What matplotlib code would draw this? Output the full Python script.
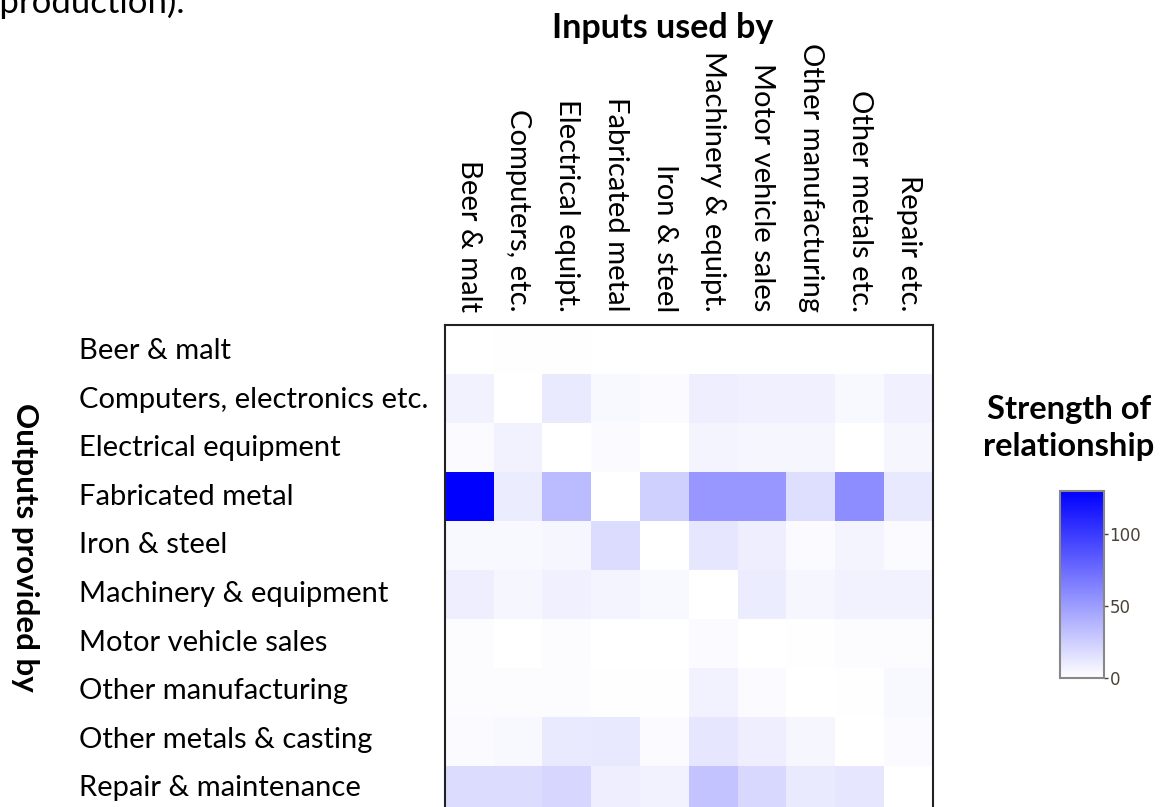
import numpy as np
import matplotlib.pyplot as plt
from matplotlib.colors import LinearSegmentedColormap

plt.rcParams['font.family'] = ['Lato', 'DejaVu Sans']

inputs = ['Beer & malt', 'Computers, etc.', 'Electrical equipt.', 'Fabricated metal',
          'Iron & steel', 'Machinery & equipt.', 'Motor vehicle sales',
          'Other manufacturing', 'Other metals etc.', 'Repair etc.']
outputs = ['Beer & malt', 'Computers, electronics etc.', 'Electrical equipment',
           'Fabricated metal', 'Iron & steel', 'Machinery & equipment',
           'Motor vehicle sales', 'Other manufacturing', 'Other metals & casting',
           'Repair & maintenance']

# strength of relationship, rows = outputs, columns = inputs
beer = [0, 1, 1, 0, 0, 0, 0, 0, 0, 0]
computers = [7, 0, 11, 4, 3, 9, 8, 8, 4, 8]
electrical = [3, 7, 0, 3, 0, 6, 5, 5, 0, 5]
fabricated = [130, 10, 35, 0, 24, 53, 53, 17, 58, 12]
iron = [4, 4, 5, 18, 0, 13, 9, 3, 6, 3]
machinery = [9, 5, 8, 6, 4, 0, 10, 5, 7, 7]
motor = [2, 0, 2, 0, 0, 3, 0, 1, 2, 2]
other_manuf = [2, 2, 2, 1, 1, 7, 3, 0, 1, 4]
other_metals = [3, 4, 11, 12, 3, 13, 9, 5, 0, 3]
repair = [18, 18, 21, 9, 7, 30, 20, 11, 13, 0]

values = np.array([beer, computers, electrical, fabricated, iron, machinery,
                   motor, other_manuf, other_metals, repair])

W, H = 1173, 807
fig = plt.figure(figsize=(W / 100, H / 100), dpi=100)

cmap = LinearSegmentedColormap.from_list('wb', ['#ffffff', '#0000ff'])

# heatmap area (pixels): x 445-933, y 325-815 (bottom row is cut off)
ax = fig.add_axes([445 / W, (H - 815) / H, 488 / W, 490 / H])
im = ax.imshow(values, cmap=cmap, vmin=0, vmax=130, aspect='auto',
               interpolation='nearest')
for s in ax.spines.values():
    s.set_linewidth(1.5)
    s.set_color('#222222')
ax.set_xticks([])
ax.set_yticks([])

for i, lab in enumerate(outputs):
    ax.text(79 / W, 1 - (351 + 48.6 * i) / H, lab, transform=fig.transFigure,
            ha='left', va='center', fontsize=21)

for j, lab in enumerate(inputs):
    ax.text(j, 1.027, lab, transform=ax.get_xaxis_transform(), rotation=270,
            ha='center', va='bottom', fontsize=21)

fig.text(663 / W, 1 - 28 / H, 'Inputs used by', ha='center', va='center',
         fontsize=24.5, fontweight='bold')
fig.text(25 / W, 1 - 547 / H, 'Outputs provided by', ha='center', va='center',
         rotation=270, fontsize=22.5, fontweight='bold')
fig.text(1069 / W, 1 - 428 / H, 'Strength of\nrelationship', ha='center',
         va='center', fontsize=23.5, fontweight='bold', linespacing=1.3)
# sentence from the surrounding page, cut by the image edge
fig.text(-10 / W, 1 - 13 / H, '(production).', ha='left', va='baseline',
         fontsize=25)

cax = fig.add_axes([1060 / W, (H - 678) / H, 44 / W, 187 / H])
cb = fig.colorbar(im, cax=cax, ticks=[0, 50, 100])
cb.outline.set_edgecolor('#888888')
cb.outline.set_linewidth(1.5)
cax.tick_params(labelsize=12, colors='#4a4238', length=3, width=1, pad=1)
for t in cax.get_yticklabels():
    t.set_family('DejaVu Sans')

fig.savefig('out.png', dpi=100)
